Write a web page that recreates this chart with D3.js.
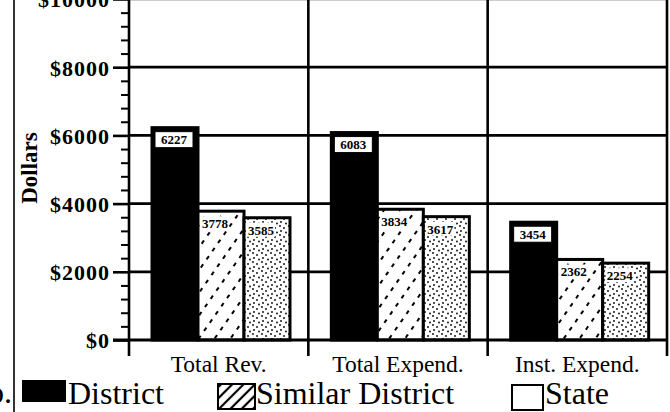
<!DOCTYPE html>
<html>
<head>
<meta charset="utf-8">
<script src="https://cdn.jsdelivr.net/npm/d3@7"></script>
<style>
  body { margin: 0; background: #fff; }
  svg { display: block; }
  text { font-family: "Liberation Serif", "DejaVu Serif", serif; fill: #000; }
</style>
</head>
<body>
<svg id="chart" width="670" height="412"></svg>
<script>
// Values
const categories = ["Total Rev.", "Total Expend.", "Inst. Expend."];
const seriesNames = ["District", "Similar District", "State"];
const districtValues = [6227, 6083, 3454];
const similarValues = [3778, 3834, 2362];
const stateValues = [3585, 3617, 2254];
const yTicks = [0, 2000, 4000, 6000, 8000, 10000];
const yMinorStep = 400;

const svg = d3.select("#chart");
const width = 670, height = 412;

// Plot frame
const plotLeft = 129, plotRight = 667, plotTop = -1, plotBottom = 340;

const x0 = d3.scaleBand().domain(categories).range([plotLeft, plotRight]);
const x1 = d3.scaleBand().domain(seriesNames).range([23, 161]);
const y = d3.scaleLinear().domain([0, 10000]).range([plotBottom, plotTop]);

// Build rows from the named arrays
const seriesValues = [districtValues, similarValues, stateValues];
const rows = [];
categories.forEach((c, i) => {
  seriesNames.forEach((s, j) => {
    rows.push({ category: c, series: s, value: seriesValues[j][i] });
  });
});

// Patterns
const defs = svg.append("defs");
const hatch = defs.append("pattern")
  .attr("id", "hatchBar")
  .attr("patternUnits", "userSpaceOnUse")
  .attr("width", 13).attr("height", 10)
  .attr("patternTransform", "rotate(35)");
hatch.append("rect").attr("width", 13).attr("height", 10).attr("fill", "#fff");
hatch.append("line")
  .attr("x1", 6).attr("y1", 0).attr("x2", 6).attr("y2", 10)
  .attr("stroke", "#000").attr("stroke-width", 2)
  .attr("stroke-dasharray", "4 6");

const hatchLegend = defs.append("pattern")
  .attr("id", "hatchLegend")
  .attr("patternUnits", "userSpaceOnUse")
  .attr("width", 8).attr("height", 8)
  .attr("patternTransform", "rotate(45)");
hatchLegend.append("rect").attr("width", 8).attr("height", 8).attr("fill", "#fff");
hatchLegend.append("line")
  .attr("x1", 4).attr("y1", 0).attr("x2", 4).attr("y2", 8)
  .attr("stroke", "#000").attr("stroke-width", 2.2);

const stipple = defs.append("pattern")
  .attr("id", "stipple")
  .attr("patternUnits", "userSpaceOnUse")
  .attr("width", 9).attr("height", 9);
stipple.append("rect").attr("width", 9).attr("height", 9).attr("fill", "#fff");
[[1, 1], [5, 3], [2, 6], [7, 7.5]].forEach(p => {
  stipple.append("circle").attr("cx", p[0]).attr("cy", p[1]).attr("r", 0.9).attr("fill", "#000");
});

const fills = { "District": "#000", "Similar District": "url(#hatchBar)", "State": "url(#stipple)" };

// Left frame line
svg.append("line")
  .attr("x1", 14).attr("x2", 14).attr("y1", 0).attr("y2", height)
  .attr("stroke", "#000").attr("stroke-width", 1.6);

// Horizontal gridlines
svg.append("g")
  .selectAll("line")
  .data(yTicks.filter(d => d > 0))
  .enter().append("line")
  .attr("x1", plotLeft).attr("x2", plotRight)
  .attr("y1", d => y(d)).attr("y2", d => y(d))
  .attr("stroke", d => d === 10000 ? "#999" : "#000")
  .attr("stroke-width", 2.8);

// Vertical category separators (incl. the right border), extended below the axis
const separators = categories.map(c => x0(c) + x0.bandwidth());
svg.append("g")
  .selectAll("line")
  .data(separators)
  .enter().append("line")
  .attr("x1", d => d).attr("x2", d => d)
  .attr("y1", plotTop).attr("y2", plotBottom + 16)
  .attr("stroke", "#000").attr("stroke-width", 2.6);

// Bars
const bars = svg.append("g");
bars.selectAll("rect")
  .data(rows)
  .enter().append("rect")
  .attr("x", d => x0(d.category) + x1(d.series))
  .attr("y", d => y(d.value))
  .attr("width", x1.bandwidth())
  .attr("height", d => y(0) - y(d.value))
  .attr("fill", d => fills[d.series])
  .attr("stroke", "#000")
  .attr("stroke-width", 3);

// Value labels
const labels = svg.append("g");
rows.forEach(d => {
  const bx = x0(d.category) + x1(d.series);
  const by = y(d.value);
  if (d.series === "District") {
    labels.append("rect")
      .attr("x", bx + 3).attr("y", by + 4)
      .attr("width", 38).attr("height", 16)
      .attr("fill", "#fff").attr("stroke", "#000").attr("stroke-width", 1);
    labels.append("text")
      .attr("x", bx + 22).attr("y", by + 16.5)
      .attr("text-anchor", "middle")
      .style("font-size", "13px").style("font-weight", "bold")
      .text(d.value);
  } else {
    labels.append("rect")
      .attr("x", bx + 3).attr("y", by + 5)
      .attr("width", 28).attr("height", 14)
      .attr("fill", "#fff");
    labels.append("text")
      .attr("x", bx + 4).attr("y", by + 17)
      .style("font-size", "13px").style("font-weight", "bold")
      .text(d.value);
  }
});

// Y axis: major ticks with labels, minor ticks
const yAxis = svg.append("g")
  .attr("transform", `translate(${plotLeft},0)`)
  .call(d3.axisLeft(y).tickValues(yTicks).tickSize(16).tickPadding(3).tickFormat(d => "$" + d));
yAxis.select(".domain").remove();
yAxis.selectAll(".tick line").attr("stroke", "#000").attr("stroke-width", 2.6);
yAxis.selectAll(".tick text")
  .style("font-family", '"Liberation Serif", serif')
  .style("font-size", "22px")
  .style("font-weight", "bold")
  .style("letter-spacing", "1px")
  .attr("dy", "0.36em");

const yMinor = svg.append("g")
  .attr("transform", `translate(${plotLeft},0)`)
  .call(d3.axisLeft(y)
    .tickValues(d3.range(0, 10001, yMinorStep).filter(v => v % 2000 !== 0))
    .tickSize(8).tickFormat(""));
yMinor.select(".domain").remove();
yMinor.selectAll(".tick line").attr("stroke", "#000").attr("stroke-width", 2);

// Axis lines
svg.append("line")
  .attr("x1", plotLeft).attr("x2", plotLeft).attr("y1", plotTop).attr("y2", plotBottom + 16)
  .attr("stroke", "#000").attr("stroke-width", 2.6);
svg.append("line")
  .attr("x1", plotLeft - 16).attr("x2", plotRight).attr("y1", plotBottom).attr("y2", plotBottom)
  .attr("stroke", "#000").attr("stroke-width", 2.8);

// Category labels
svg.append("g")
  .selectAll("text")
  .data(categories)
  .enter().append("text")
  .attr("x", d => x0(d) + x0.bandwidth() / 2)
  .attr("y", 372)
  .attr("text-anchor", "middle")
  .style("font-size", "23.5px")
  .text(d => d);

// Y title
svg.append("text")
  .attr("transform", "translate(37,168) rotate(-90)")
  .attr("text-anchor", "middle")
  .style("font-size", "23px")
  .style("font-weight", "bold")
  .text("Dollars");

// Cut-off text at the bottom left edge (cut in the reference too)
svg.append("text")
  .attr("x", 12).attr("y", 403)
  .attr("text-anchor", "end")
  .style("font-size", "32px")
  .text("No.");

// Legend
const legendItems = [
  { name: seriesNames[0], fill: "#000", box: [23, 381, 42, 20], tx: 68 },
  { name: seriesNames[1], fill: "url(#hatchLegend)", box: [218, 384, 37, 25], tx: 256 },
  { name: seriesNames[2], fill: "#fff", box: [512, 385, 31, 25], tx: 545 }
];
const legend = svg.append("g");
legendItems.forEach(it => {
  legend.append("rect")
    .attr("x", it.box[0]).attr("y", it.box[1])
    .attr("width", it.box[2]).attr("height", it.box[3])
    .attr("fill", it.fill)
    .attr("stroke", "#000").attr("stroke-width", 2);
  legend.append("text")
    .attr("x", it.tx).attr("y", 404)
    .style("font-size", "32px")
    .text(it.name);
});
</script>
</body>
</html>
